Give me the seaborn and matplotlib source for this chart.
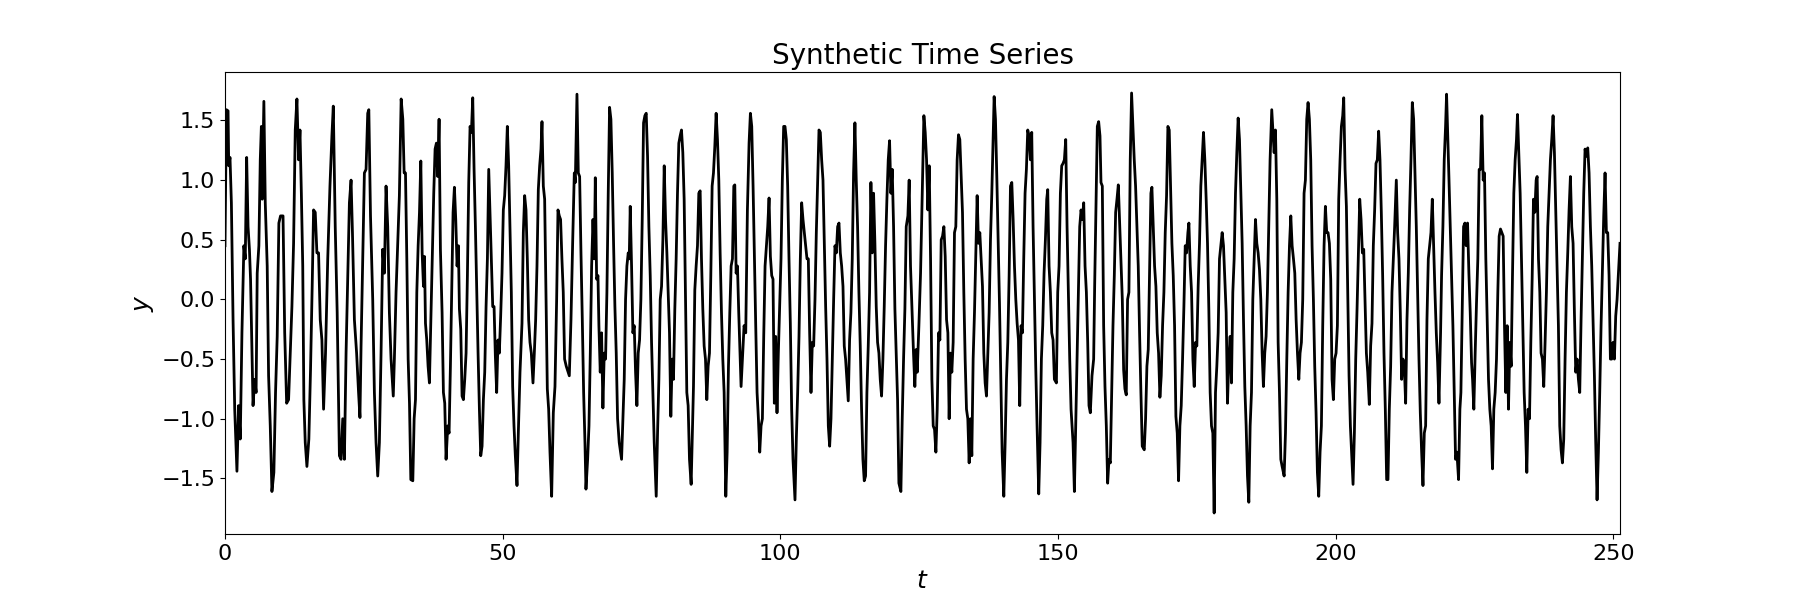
import matplotlib
matplotlib.use('Agg')
import matplotlib.pyplot as plt
import pandas as pd
import seaborn as sns

# (t, y) points, one list per stretch of the axis
seg1 = [(0.0,0.45),(0.25,1.59),(0.55,1.58),(0.67,1.12),(0.9,1.19),(1.15,0.81),(1.45,-0.17),(1.75,-0.92),(2.15,-1.44),(2.45,-0.89),(2.75,-1.17),(3.05,-0.28),(3.4,0.45),(3.65,0.34),(3.9,1.19),(4.15,0.61),(4.4,0.42),(4.6,0.17),(4.85,-0.42),(5.05,-0.89),(5.35,-0.67),(5.6,-0.78),(5.8,0.22),(6.1,0.45),(6.35,1.17),(6.55,1.45),(6.7,0.84),(7.0,1.66),(7.25,0.81),(7.6,0.28),(7.85,-0.64),(8.15,-1.06),(8.45,-1.61),(8.8,-1.45),(9.1,-0.78),(9.4,-0.31),(9.7,0.64),(10.0,0.70),(10.45,0.70),(10.75,-0.28),(11.1,-0.87),(11.45,-0.84),(11.75,-0.45),(12.05,-0.06),(12.35,0.47),(12.65,1.42),(12.95,1.68),(13.25,1.17),(13.5,1.42),(13.75,0.89),(14.0,0.28),(14.2,-0.84),(14.45,-1.2),(14.75,-1.40),(15.1,-1.17),(15.4,-0.59),(15.7,0.11),(15.95,0.75),(16.25,0.73),(16.55,0.39),(16.85,0.39),(17.15,-0.17),(17.45,-0.34),(17.75,-0.92),(18.1,-0.45),(18.5,0.34),(18.9,0.95),(19.25,1.37),(19.5,1.62),(19.85,0.61),(20.2,-0.11),(20.6,-1.31),(20.9,-1.34),(21.2,-1.0),(21.5,-1.34),(21.8,-0.45),(22.1,0.17),(22.4,0.81),(22.7,1.0),(22.95,0.56),(23.3,-0.17),(23.7,-0.45),(24.05,-0.78),(24.3,-0.99),(24.5,-0.39),(24.9,0.59),(25.1,1.06),(25.4,1.09),(25.7,1.56),(25.9,1.59),(26.2,0.70),(26.6,0.0),(26.9,-0.78),(27.2,-1.2),(27.5,-1.48),(27.8,-1.2),(28.1,-0.45),(28.4,0.42),(28.7,0.22),(29.0,0.95),(29.3,0.61),(29.6,-0.11),(29.9,-0.50),(30.3,-0.81),(30.5,-0.5),(30.8,0.06),(31.1,0.47),(31.4,0.87)]

seg2 = [(31.72,1.68),(32.02,1.51),(32.26,1.06),(32.5,1.06),(32.74,0.34),(32.98,-0.50),(33.22,-0.87),(33.46,-1.51),(33.82,-1.52),(34.06,-1.0),(34.3,-0.84),(34.54,0.06),(34.78,0.45),(35.02,0.73),(35.26,1.16),(35.5,0.39),(35.74,0.11),(35.92,0.36),(36.1,-0.20),(36.33,-0.34),(36.57,-0.56),(36.81,-0.70),(37.05,-0.22),(37.29,0.22),(37.59,0.89),(37.83,1.26),(38.07,1.31),(38.31,1.03),(38.55,1.51),(38.79,0.42),(39.09,-0.11),(39.33,-0.78),(39.57,-0.87),(39.81,-1.34),(40.11,-1.06),(40.35,-1.12),(40.59,-0.56),(40.83,0.06),(41.07,0.73),(41.31,0.94),(41.55,0.67),(41.79,0.28),(42.03,0.45),(42.21,-0.08),(42.45,-0.25),(42.69,-0.81),(42.93,-0.84),(43.17,-0.67),(43.41,-0.45),(43.65,0.20),(43.89,0.98),(44.13,1.45),(44.37,1.40),(44.61,1.69),(44.85,1.09),(45.09,0.61),(45.33,0.06),(45.57,-0.45),(45.81,-0.92),(46.05,-1.31),(46.29,-1.23),(46.53,-0.84),(46.77,-0.61),(47.01,-0.06),(47.25,0.34),(47.49,1.09),(47.73,0.70),(47.97,0.34),(48.21,-0.06),(48.45,-0.06),(48.68,-0.47),(48.92,-0.78),(49.16,-0.34),(49.4,-0.45),(49.64,-0.14),(49.88,0.22),(50.12,0.75),(50.36,0.87),(50.6,1.12),(50.84,1.45),(51.08,1.12),(51.32,0.61),(51.56,0.06),(51.8,-0.73),(52.04,-1.06),(52.28,-1.31),(52.58,-1.56),(52.82,-1.12),(53.12,-0.61),(53.48,-0.20),(53.72,0.56),(53.96,0.87),(54.2,0.75),(54.44,0.34),(54.68,-0.17),(54.92,-0.36),(55.16,-0.45),(55.46,-0.70),(55.7,-0.45),(55.94,-0.17),(56.18,0.28),(56.42,0.92),(56.66,1.12),(56.9,1.26),(57.08,1.49),(57.32,0.95),(57.56,0.84),(57.8,0.06),(58.04,-0.75),(58.28,-0.92),(58.52,-1.28),(58.82,-1.65),(59.12,-0.95),(59.42,-0.73),(59.72,0.0),(59.96,0.75),(60.2,0.70),(60.43,0.67),(60.67,0.34),(60.91,0.06),(61.15,-0.50),(61.45,-0.56)]

seg3 = [(62.0,-0.64),(62.3,-0.17),(62.6,0.47),(62.9,1.06),(63.08,0.98),(63.38,1.72),(63.62,1.06),(63.86,1.03),(64.1,0.39),(64.34,-0.17),(64.58,-0.78),(64.82,-1.20),(65.0,-1.59),(65.3,-1.34),(65.54,-1.06),(65.78,-0.45),(66.02,0.28),(66.26,0.67),(66.5,0.34),(66.68,1.02),(66.92,0.17),(67.16,0.20),(67.33,-0.22),(67.57,-0.61),(67.81,-0.28),(68.05,-0.91),(68.29,-0.45),(68.53,-0.50),(68.77,0.06),(69.01,0.89),(69.25,1.61),(69.49,1.51),(69.73,1.06),(69.97,0.47),(70.21,-0.06),(70.45,-0.45),(70.69,-1.0),(70.99,-1.2),(71.41,-1.34),(71.65,-1.0),(71.89,-0.67),(72.13,0.0),(72.37,0.28),(72.61,0.39),(72.79,0.34),(72.97,0.78),(73.21,0.28),(73.45,-0.28),(73.69,-0.22),(73.93,-0.61),(74.17,-0.89),(74.41,-0.45),(74.65,-0.34),(74.89,0.0),(75.13,0.67),(75.37,1.48),(75.61,1.54),(75.85,1.56),(76.09,1.20),(76.33,0.61),(76.57,0.20),(76.81,-0.36),(77.05,-0.78),(77.29,-1.20),(77.65,-1.65),(77.89,-1.12),(78.13,-0.67),(78.37,0.0),(78.61,0.11),(78.85,0.50),(79.09,1.12),(79.33,0.67),(79.57,0.39),(79.81,0.06),(80.04,-0.28),(80.28,-0.98),(80.52,-0.50),(80.76,-0.67),(81.0,-0.08),(81.24,0.34),(81.48,0.89),(81.72,1.31),(81.96,1.37),(82.2,1.42),(82.44,1.23),(82.68,0.84),(82.92,0.06),(83.16,-0.78),(83.4,-0.89),(83.64,-1.34),(83.94,-1.55),(84.18,-1.06),(84.36,-0.73),(84.6,0.08),(84.84,0.28),(85.08,0.45),(85.32,0.89),(85.56,0.91),(85.8,0.34),(86.04,-0.08),(86.28,-0.39),(86.52,-0.50),(86.76,-0.84),(87.0,-0.56),(87.24,-0.45),(87.48,0.20),(87.72,0.95),(87.96,1.06),(88.2,1.28),(88.44,1.56),(88.68,1.34),(88.92,1.0),(89.16,0.39),(89.4,-0.11),(89.64,-0.5),(89.88,-0.78),(90.18,-1.65),(90.42,-1.28),(90.66,-0.56),(90.9,-0.11),(91.14,0.28),(91.38,0.34),(91.62,0.95),(91.8,0.96),(92.04,0.22),(92.28,0.28),(92.51,-0.11),(92.75,-0.45),(92.93,-0.73)]

seg4 = [(93.47,-0.22),(93.77,-0.28),(94.07,0.75),(94.37,1.31),(94.61,1.56),(94.85,1.45),(95.09,0.95),(95.33,0.34),(95.57,-0.22),(95.81,-0.78),(96.05,-1.0),(96.29,-1.28),(96.53,-1.06),(96.77,-1.0),(97.01,-0.31),(97.25,0.28),(97.49,0.45),(97.73,0.61),(97.97,0.85),(98.21,0.36),(98.45,0.20),(98.68,0.17),(98.92,-0.87),(99.16,-0.31),(99.4,-0.95),(99.64,-0.45),(99.88,-0.06),(100.12,0.34),(100.36,1.0),(100.6,1.45),(100.84,1.45),(101.08,1.34),(101.32,0.95),(101.56,0.34),(101.8,-0.20),(102.04,-0.92),(102.28,-1.34),(102.64,-1.68),(102.88,-1.17),(103.12,-0.78),(103.36,-0.31),(103.6,0.34),(103.84,0.81),(104.08,0.67),(104.32,0.56),(104.56,0.45),(104.8,0.34),(105.04,0.34),(105.28,-0.28),(105.52,-0.78),(105.76,-0.36),(106.0,-0.39),(106.24,0.0),(106.48,0.56),(106.72,1.0),(106.96,1.42),(107.2,1.40),(107.44,1.17),(107.68,1.0),(107.92,0.45),(108.16,-0.06),(108.4,-0.50),(108.64,-1.06),(108.88,-1.23),(109.12,-1.0),(109.36,-0.5),(109.6,0.0),(109.84,0.45),(110.08,0.39),(110.32,0.61),(110.56,0.64),(110.8,0.39),(111.04,0.28),(111.28,0.11),(111.51,-0.39),(111.75,-0.50),(111.99,-0.67),(112.23,-0.85),(112.47,-0.34),(112.71,-0.11),(112.95,0.34),(113.19,1.06),(113.43,1.48),(113.67,1.0),(113.91,0.61),(114.15,0.06),(114.39,-0.39),(114.63,-0.92),(114.87,-1.34),(115.11,-1.52),(115.35,-1.48),(115.59,-0.78),(115.83,-0.39),(116.07,0.06),(116.31,0.98),(116.55,0.39),(116.79,0.89),(117.03,0.47),(117.27,-0.06),(117.51,-0.36),(117.75,-0.45),(117.99,-0.67),(118.23,-0.81),(118.47,-0.50),(118.71,-0.06),(118.95,0.45),(119.19,0.84),(119.43,1.17),(119.67,1.33),(119.91,0.89),(120.15,1.09),(120.39,0.61),(120.63,-0.08),(120.87,-0.45),(121.11,-0.84),(121.35,-1.54),(121.71,-1.61),(121.95,-1.0),(122.19,-0.50),(122.43,-0.08),(122.67,0.61),(122.97,0.70),(123.2,1.0),(123.44,0.28),(123.74,-0.14),(123.98,-0.45),(124.22,-0.73),(124.46,-0.42)]

seg5 = [(124.65,-0.61),(124.95,-0.22),(125.25,0.22),(125.55,0.89),(125.85,1.54),(126.09,1.40),(126.33,1.17),(126.57,0.75),(126.81,1.12),(127.05,0.34),(127.29,-0.67),(127.53,-1.06),(127.77,-1.09),(128.01,-1.28),(128.25,-0.92),(128.49,-0.28),(128.73,-0.34),(128.97,0.50),(129.21,0.53),(129.45,0.61),(129.69,0.36),(129.93,-0.17),(130.17,-0.28),(130.4,-1.0),(130.64,-0.45),(130.88,-0.61),(131.12,-0.36),(131.36,0.56),(131.6,0.61),(131.84,1.17),(132.08,1.38),(132.32,1.34),(132.56,1.03),(132.8,0.73),(133.04,0.06),(133.28,-0.50),(133.52,-0.92),(133.76,-1.0),(134.0,-1.37),(134.24,-1.0),(134.48,-1.31),(134.72,-0.50),(134.96,-0.11),(135.2,0.39),(135.44,0.87),(135.68,0.47),(135.92,0.56),(136.16,0.34),(136.4,0.11),(136.64,-0.45),(136.88,-0.70),(137.12,-0.81),(137.36,-0.45),(137.6,-0.11),(137.84,0.50),(138.08,0.89),(138.32,1.37),(138.5,1.70),(138.74,1.51),(138.98,1.03),(139.22,0.50),(139.46,-0.03),(139.7,-0.67),(139.94,-1.28),(140.24,-1.65),(140.48,-1.20),(140.72,-0.67),(140.96,-0.36),(141.2,0.20),(141.44,0.95),(141.68,0.98),(141.92,0.67),(142.16,0.28),(142.4,0.0),(142.64,-0.20),(142.88,-0.34),(143.11,-0.89),(143.35,-0.22),(143.59,-0.28),(143.83,0.34),(144.07,0.89),(144.31,1.09),(144.55,1.42),(144.79,1.37),(145.03,1.17),(145.27,1.40),(145.51,0.61),(145.75,0.0),(145.99,-0.56),(146.23,-1.06),(146.53,-1.63),(146.77,-1.20),(147.01,-0.50),(147.25,-0.22),(147.49,0.22),(147.73,0.50),(147.97,0.84),(148.15,0.92),(148.39,0.28),(148.63,0.06),(148.87,-0.28),(149.11,-0.34),(149.35,-0.67),(149.71,-0.70),(149.95,0.06),(150.19,0.28),(150.43,0.89),(150.67,1.12),(150.91,1.14),(151.15,1.17),(151.39,1.34),(151.63,0.61),(151.87,0.06),(152.11,-0.50),(152.35,-0.92),(152.71,-1.20),(152.95,-1.61),(153.19,-1.06),(153.43,-0.50),(153.67,0.0),(153.91,0.61),(154.15,0.75),(154.39,0.67),(154.63,0.81),(154.87,0.28),(155.11,0.06),(155.35,-0.36),(155.58,-0.89)]

seg6 = [(155.82,-0.95),(156.12,-0.64),(156.42,-0.50),(156.6,0.11),(156.84,0.78),(157.08,1.45),(157.32,1.49),(157.56,1.37),(157.74,0.98),(157.98,0.95),(158.22,-0.22),(158.46,-0.73),(158.7,-1.06),(158.94,-1.54),(159.18,-1.34),(159.42,-1.37),(159.66,-0.78),(159.9,-0.22),(160.14,0.20),(160.38,0.73),(160.62,0.84),(160.86,0.96),(161.1,0.64),(161.34,0.34),(161.58,0.0),(161.82,-0.59),(162.05,-0.75),(162.29,-0.80),(162.53,0.0),(162.77,0.06),(163.01,1.17),(163.25,1.73),(163.49,1.45),(163.73,1.17),(163.97,0.95),(164.21,0.61),(164.45,0.28),(164.69,-0.28),(164.93,-0.78),(165.17,-1.23),(165.53,-1.26),(165.77,-1.0),(166.01,-0.56),(166.25,-0.42),(166.49,0.22),(166.73,0.89),(166.91,0.94),(167.15,0.61),(167.39,0.28),(167.63,0.11),(167.87,-0.28),(168.11,-0.45),(168.35,-0.82),(168.59,-0.64),(168.83,-0.22),(169.07,0.06),(169.31,0.56),(169.55,0.87),(169.79,1.45),(170.03,1.42),(170.27,0.95),(170.51,0.47),(170.75,0.20),(170.99,-0.22),(171.23,-0.98),(171.47,-1.12),(171.71,-1.52),(171.95,-1.06),(172.19,-0.89),(172.43,-0.50),(172.67,-0.06),(172.91,0.45),(173.15,0.39),(173.39,0.56),(173.57,0.64),(173.81,0.28),(174.05,0.06),(174.29,-0.50),(174.53,-0.73),(174.77,-0.36),(175.0,-0.39),(175.24,0.11),(175.48,0.47),(175.72,0.95),(175.96,1.17),(176.2,1.40),(176.44,1.17),(176.68,0.84),(176.92,0.47),(177.16,-0.08),(177.4,-0.78),(177.64,-1.06),(177.88,-1.12),(178.12,-1.79),(178.36,-0.78),(178.6,-0.56),(178.84,-0.28),(179.08,0.34),(179.32,0.45),(179.56,0.56),(179.8,0.45),(180.04,0.17),(180.28,-0.11),(180.52,-0.87),(180.76,-0.50),(181.0,-0.31),(181.24,-0.70),(181.48,0.06),(181.72,0.34),(181.96,0.89),(182.2,1.23),(182.44,1.52),(182.68,1.34),(182.92,0.89),(183.16,0.47),(183.4,-0.17),(183.64,-0.73),(183.88,-1.06),(184.12,-1.48),(184.36,-1.70),(184.6,-1.06),(184.84,-0.78),(185.08,0.0),(185.32,0.34),(185.56,0.67),(185.8,0.47),(186.04,0.39),(186.28,0.25),(186.52,0.0),(186.76,-0.45),(186.99,-0.73),(187.23,-0.45),(187.47,-0.31),(187.71,0.06),(187.95,0.61),(188.19,1.17),(188.49,1.59)]

seg7 = [(188.92,1.23),(189.16,1.42),(189.4,0.84),(189.64,-0.36),(189.88,-0.78),(190.12,-1.34),(190.36,-1.40),(190.72,-1.48),(190.96,-1.12),(191.2,-0.50),(191.44,0.06),(191.68,0.45),(191.92,0.70),(192.16,0.45),(192.4,0.34),(192.64,0.22),(192.88,-0.17),(193.12,-0.45),(193.36,-0.67),(193.59,-0.45),(193.83,-0.36),(194.07,0.0),(194.31,0.89),(194.55,1.0),(194.79,1.51),(195.03,1.65),(195.27,1.51),(195.51,1.17),(195.75,0.45),(195.99,0.0),(196.23,-0.56),(196.47,-0.95),(196.71,-1.45),(196.95,-1.65),(197.19,-1.28),(197.43,-1.06),(197.67,-0.22),(197.91,0.45),(198.15,0.78),(198.39,0.56),(198.63,0.56),(198.87,0.47),(199.11,0.17),(199.35,-0.67),(199.59,-0.84),(199.83,-0.50),(200.07,-0.45),(200.31,-0.22),(200.55,0.84),(200.79,1.17),(201.03,1.45),(201.27,1.54),(201.45,1.69),(201.69,1.09),(201.93,0.78),(202.17,0.06),(202.41,-0.64),(202.65,-1.06),(202.89,-1.31),(203.13,-1.55),(203.37,-1.12),(203.61,-0.50),(203.85,-0.08),(204.09,0.39),(204.33,0.84),(204.57,0.67),(204.81,0.39),(205.05,0.42),(205.29,0.0),(205.53,-0.45),(205.77,-0.61),(206.06,-0.88),(206.3,-0.39),(206.54,-0.20),(206.78,0.45),(207.02,0.75),(207.26,1.14),(207.5,1.17),(207.74,1.41),(207.98,1.17),(208.22,0.73),(208.46,0.20),(208.7,-0.45),(208.94,-0.92),(209.18,-1.51),(209.42,-1.51),(209.66,-0.92),(209.9,-0.56),(210.14,0.06),(210.38,0.34),(210.62,0.61),(210.92,1.0),(211.16,0.56),(211.4,0.34),(211.64,-0.11),(211.88,-0.67),(212.12,-0.50),(212.36,-0.56),(212.6,-0.87),(212.84,-0.17),(213.08,0.22),(213.32,0.75),(213.56,1.17),(213.8,1.65),(214.04,1.51),(214.28,1.06),(214.52,0.61),(214.76,0.06),(215.0,-0.50),(215.24,-0.95),(215.48,-1.28),(215.72,-1.56),(215.96,-1.12),(216.2,-1.06),(216.44,-0.17),(216.68,0.34),(216.92,0.45),(217.16,0.56),(217.4,0.84),(217.64,0.45),(217.88,0.06),(218.12,-0.28),(218.36,-0.53),(218.6,-0.87)]

seg8 = [(218.89,-0.28),(219.07,0.20),(219.31,0.61),(219.55,1.17),(219.79,1.45),(219.97,1.72),(220.21,1.34),(220.39,1.03),(220.63,0.61),(220.87,0.22),(221.11,-0.22),(221.35,-0.78),(221.59,-1.34),(221.83,-1.28),(222.13,-1.51),(222.37,-0.92),(222.55,-0.78),(222.79,-0.06),(223.03,0.61),(223.27,0.64),(223.51,0.45),(223.75,0.64),(223.99,0.22),(224.23,-0.11),(224.47,-0.53),(224.65,-0.67),(224.88,-0.92),(225.12,-0.45),(225.36,-0.03),(225.6,0.34),(225.84,1.09),(226.08,1.09),(226.32,1.54),(226.56,1.0),(226.8,1.06),(227.04,0.34),(227.28,-0.17),(227.52,-0.67),(227.76,-0.92),(228.0,-1.06),(228.24,-1.42),(228.48,-0.92),(228.72,-0.78),(228.96,-0.50),(229.2,0.06),(229.44,0.53),(229.68,0.59),(229.92,0.56),(230.16,0.53),(230.4,-0.22),(230.64,-0.78),(230.88,-0.22),(231.12,-0.92),(231.36,-0.36),(231.6,-0.56),(231.84,0.20),(232.08,0.89),(232.32,1.17),(232.56,1.34),(232.74,1.55),(232.98,1.23),(233.22,0.89),(233.46,0.34),(233.7,-0.22),(233.94,-0.78),(234.18,-1.06),(234.42,-1.45),(234.66,-0.92),(234.9,-1.0),(235.14,-0.36),(235.38,0.17),(235.62,0.84),(235.86,0.73),(236.1,1.0),(236.28,1.03),(236.52,0.34),(236.76,0.06),(236.99,-0.45),(237.23,-0.50),(237.47,-0.73),(237.71,-0.36),(237.95,0.06),(238.19,0.61),(238.43,0.89),(238.67,1.17),(238.91,1.34),(239.15,1.54),(239.39,1.23),(239.63,0.75),(239.87,0.28),(240.11,-0.22),(240.35,-1.06),(240.59,-1.26),(240.83,-1.37),(241.07,-1.17),(241.31,-0.50),(241.55,0.06),(241.79,0.39),(242.03,0.75),(242.27,1.03),(242.51,0.61),(242.75,0.47),(242.99,-0.11),(243.23,-0.61),(243.47,-0.50),(243.71,-0.67),(243.95,-0.78),(244.19,-0.17),(244.43,0.34),(244.67,0.89),(244.91,1.26),(245.15,1.20),(245.39,1.27),(245.63,1.06),(245.87,0.61),(246.11,0.28),(246.35,-0.17),(246.59,-0.64),(246.83,-1.20),(247.07,-1.68),(247.31,-1.28),(247.55,-0.78),(247.79,-0.22),(248.03,0.25),(248.27,0.70),(248.51,1.06),(248.75,0.56),(248.99,0.56),(249.23,0.20),(249.47,-0.50),(249.71,-0.50),(249.95,-0.36),(250.19,-0.50),(250.43,-0.14),(250.67,0.0),(251.2,0.47)]

segments = [seg1, seg2, seg3, seg4, seg5, seg6, seg7, seg8]
df = pd.DataFrame([p for s in segments for p in s], columns=['t', 'y'])

fig, ax = plt.subplots(figsize=(18, 6), dpi=100)
sns.lineplot(data=df, x='t', y='y', color='black', linewidth=2,
             estimator=None, sort=False, ax=ax)
ax.set_xlim(df['t'].min(), df['t'].max())

ax.set_title('Synthetic Time Series', fontsize=20)
ax.set_xlabel('$t$', fontsize=18)
ax.set_ylabel('$y$', fontsize=18)
ax.tick_params(labelsize=16)

fig.savefig('out.png')
